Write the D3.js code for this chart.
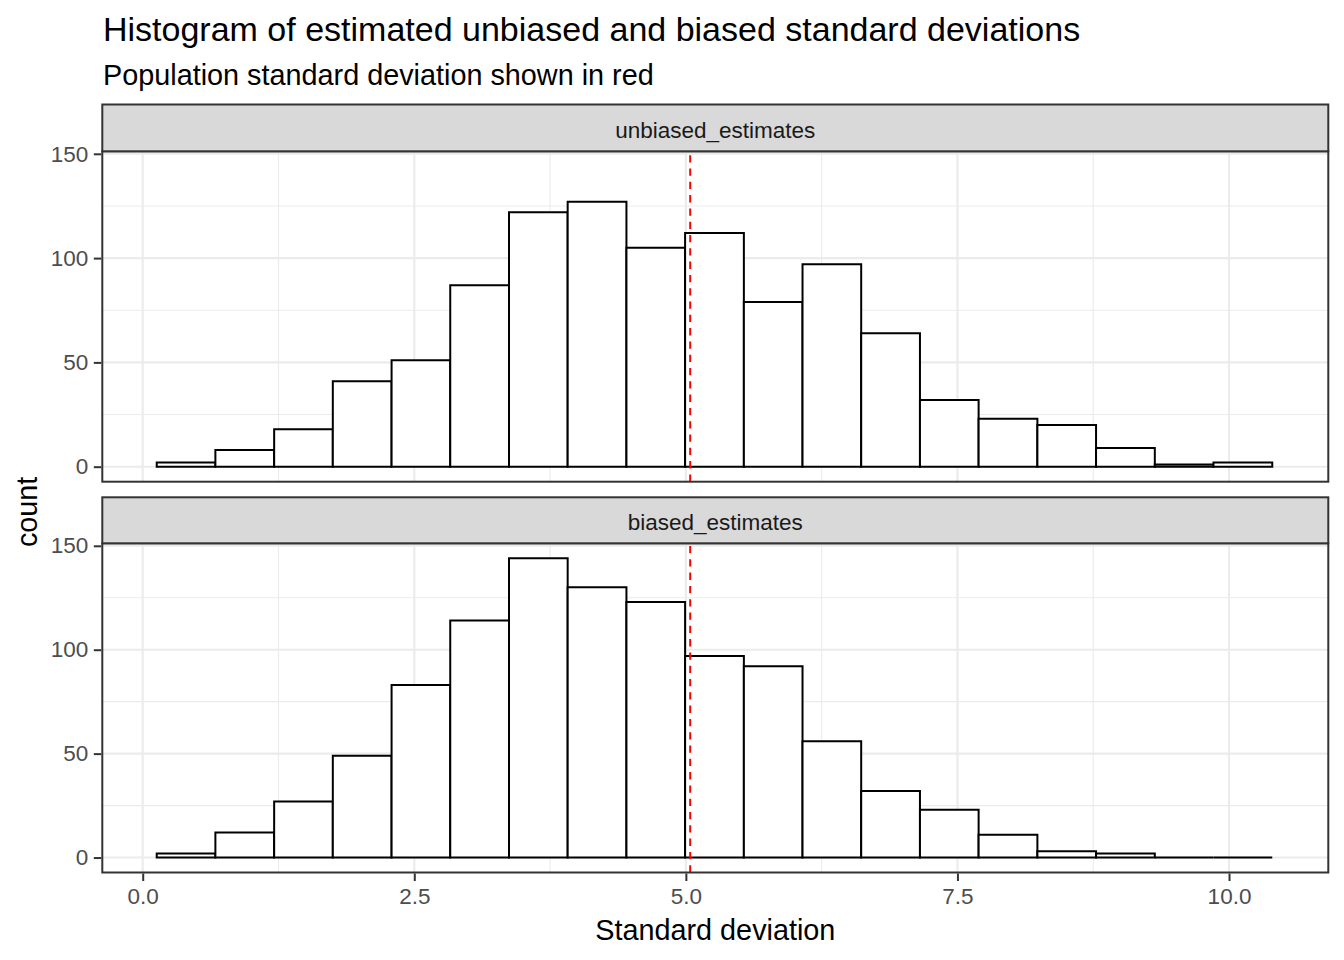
<!DOCTYPE html>
<html>
<head>
<meta charset="utf-8">
<script src="https://cdn.jsdelivr.net/npm/d3@7"></script>
<style>
  html, body { margin: 0; padding: 0; background: #fff; }
  text { font-family: "Liberation Sans", Arial, sans-serif; }
</style>
</head>
<body>
<svg id="chart" width="1344" height="960"></svg>
<script>
// ---- data ----
const facets = ["unbiased_estimates", "biased_estimates"];
const binEdges = [0.129, 0.669, 1.210, 1.750, 2.291, 2.831, 3.372, 3.912, 4.453, 4.993,
                  5.534, 6.074, 6.614, 7.155, 7.695, 8.236, 8.776, 9.317, 9.857, 10.398];
const unbiasedCounts = [2, 8, 18, 41, 51, 87, 122, 127, 105, 112, 79, 97, 64, 32, 23, 20, 9, 1, 2];
const biasedCounts   = [2, 12, 27, 49, 83, 114, 144, 130, 123, 97, 92, 56, 32, 23, 11, 3, 2, 0, 0];
const populationSD = 5.04;
const xLimits = [-0.372, 10.914];
const xTicks = [0, 2.5, 5, 7.5, 10];
const xTickLabels = ["0.0", "2.5", "5.0", "7.5", "10.0"];
const xMinor = [1.25, 3.75, 6.25, 8.75];
const yTicks = [0, 50, 100, 150];
const yMinor = [25, 75, 125];
const titleText = "Histogram of estimated unbiased and biased standard deviations";
const subtitleText = "Population standard deviation shown in red";
const xLabel = "Standard deviation";
const yLabel = "count";

const seriesByFacet = { unbiased_estimates: unbiasedCounts, biased_estimates: biasedCounts };

// ---- layout ----
const svg = d3.select("#chart");
const panelLeft = 102.3, panelRight = 1328.3;
const layout = [
  { stripTop: 104.5, panelTop: 151.3, panelBottom: 481.7 },
  { stripTop: 497.3, panelTop: 543.3, panelBottom: 872.5 }
];

const x = d3.scaleLinear().domain(xLimits).range([panelLeft, panelRight]);

const allMax = d3.max([...unbiasedCounts, ...biasedCounts]);
const yDomain = [0 - 0.05 * allMax, allMax + 0.05 * allMax];

svg.append("rect").attr("width", 1344).attr("height", 960).attr("fill", "#fff");

// titles
svg.append("text").attr("x", 103).attr("y", 40.5)
  .attr("font-size", 34).attr("fill", "#000").text(titleText);
svg.append("text").attr("x", 103).attr("y", 85)
  .attr("font-size", 28.8).attr("fill", "#000").text(subtitleText);

facets.forEach((f, i) => {
  const L = layout[i];
  const counts = seriesByFacet[f];
  const y = d3.scaleLinear().domain(yDomain).range([L.panelBottom, L.panelTop]);
  const g = svg.append("g");

  // panel background
  g.append("rect").attr("x", panelLeft).attr("y", L.panelTop)
    .attr("width", panelRight - panelLeft).attr("height", L.panelBottom - L.panelTop)
    .attr("fill", "#fff");

  // minor grid
  g.selectAll(".xminor").data(xMinor).join("line")
    .attr("x1", d => x(d)).attr("x2", d => x(d))
    .attr("y1", L.panelTop).attr("y2", L.panelBottom)
    .attr("stroke", "#EBEBEB").attr("stroke-width", 1.1);
  g.selectAll(".yminor").data(yMinor).join("line")
    .attr("y1", d => y(d)).attr("y2", d => y(d))
    .attr("x1", panelLeft).attr("x2", panelRight)
    .attr("stroke", "#EBEBEB").attr("stroke-width", 1.1);
  // major grid
  g.selectAll(".xmajor").data(xTicks).join("line")
    .attr("x1", d => x(d)).attr("x2", d => x(d))
    .attr("y1", L.panelTop).attr("y2", L.panelBottom)
    .attr("stroke", "#EBEBEB").attr("stroke-width", 2.1);
  g.selectAll(".ymajor").data(yTicks).join("line")
    .attr("y1", d => y(d)).attr("y2", d => y(d))
    .attr("x1", panelLeft).attr("x2", panelRight)
    .attr("stroke", "#EBEBEB").attr("stroke-width", 2.1);

  // bars (as closed paths so zero-height bins still show as a line)
  const bins = counts.map((c, k) => ({ x0: binEdges[k], x1: binEdges[k + 1], c }));
  g.selectAll(".bar").data(bins).join("path")
    .attr("d", d => {
      const xa = x(d.x0), xb = x(d.x1), y0 = y(0), y1 = y(d.c);
      return `M${xa},${y0}L${xa},${y1}L${xb},${y1}L${xb},${y0}Z`;
    })
    .attr("fill", "#fff").attr("stroke", "#000").attr("stroke-width", 2)
    .attr("stroke-linejoin", "miter");

  // population sd line (drawn from bottom to top)
  g.append("line")
    .attr("x1", x(populationSD)).attr("x2", x(populationSD))
    .attr("y1", L.panelBottom).attr("y2", L.panelTop)
    .attr("stroke", "#FF0000").attr("stroke-width", 2)
    .attr("stroke-dasharray", "7.3,6");

  // panel border
  g.append("rect").attr("x", panelLeft).attr("y", L.panelTop)
    .attr("width", panelRight - panelLeft).attr("height", L.panelBottom - L.panelTop)
    .attr("fill", "none").attr("stroke", "#333333").attr("stroke-width", 2);

  // strip
  g.append("rect").attr("x", panelLeft).attr("y", L.stripTop)
    .attr("width", panelRight - panelLeft).attr("height", L.panelTop - L.stripTop)
    .attr("fill", "#D9D9D9").attr("stroke", "#333333").attr("stroke-width", 2);
  g.append("text")
    .attr("x", (panelLeft + panelRight) / 2)
    .attr("y", (L.stripTop + L.panelTop) / 2 + 10)
    .attr("text-anchor", "middle").attr("font-size", 22.5).attr("fill", "#1A1A1A")
    .text(f);

  // y axis
  const yAxis = d3.axisLeft(y).tickValues(yTicks).tickSize(7.5).tickPadding(5.5);
  const ya = g.append("g").attr("transform", `translate(${panelLeft - 1},0)`).call(yAxis);
  ya.select(".domain").remove();
  ya.selectAll(".tick line").attr("stroke", "#333333").attr("stroke-width", 2);
  ya.selectAll(".tick text").attr("font-size", 22.5).attr("fill", "#4D4D4D")
    .attr("font-family", "'Liberation Sans', Arial, sans-serif");

  // x axis on bottom panel only
  if (i === facets.length - 1) {
    const xAxis = d3.axisBottom(x).tickValues(xTicks)
      .tickFormat((d, k) => xTickLabels[k]).tickSize(7.5).tickPadding(7.5);
    const xa = g.append("g").attr("transform", `translate(0,${L.panelBottom + 1})`).call(xAxis);
    xa.select(".domain").remove();
    xa.selectAll(".tick line").attr("stroke", "#333333").attr("stroke-width", 2);
    xa.selectAll(".tick text").attr("font-size", 22.5).attr("fill", "#4D4D4D")
      .attr("font-family", "'Liberation Sans', Arial, sans-serif");
  }
});

// axis titles
svg.append("text").attr("x", (panelLeft + panelRight) / 2).attr("y", 939.5)
  .attr("text-anchor", "middle").attr("font-size", 28.8).attr("fill", "#000").text(xLabel);
const yMid = (layout[0].panelTop + layout[1].panelBottom) / 2;
svg.append("text").attr("transform", `translate(37,${yMid}) rotate(-90)`)
  .attr("text-anchor", "middle").attr("font-size", 28.8).attr("fill", "#000").text(yLabel);
</script>
</body>
</html>
